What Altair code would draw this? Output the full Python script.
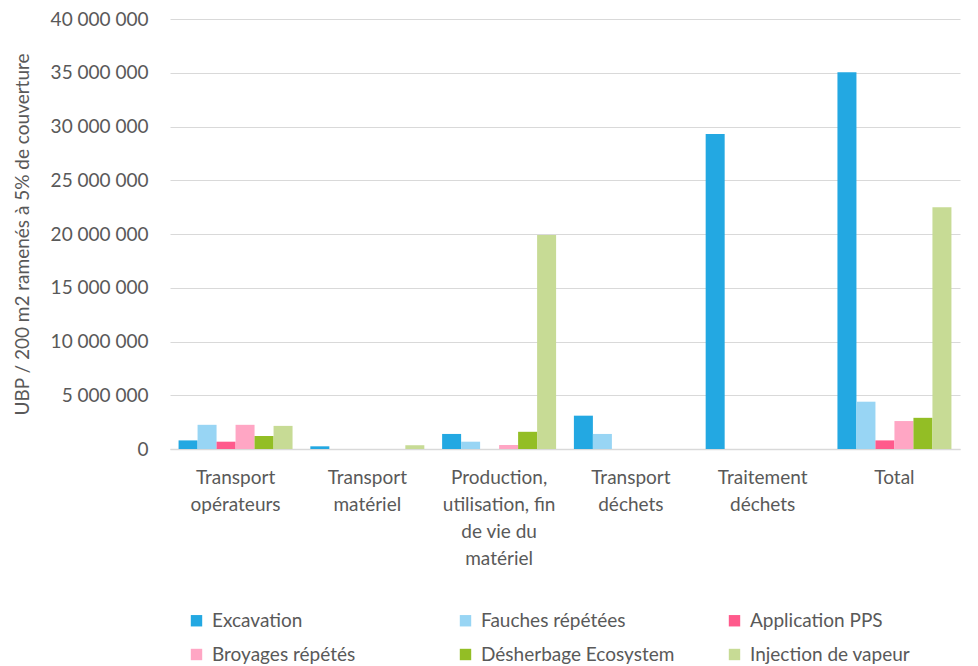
import altair as alt
import pandas as pd

# Life-cycle stages (x categories), each label split on "\n" for multi-line ticks
stages = [
    "Transport\nopérateurs",
    "Transport\nmatériel",
    "Production,\nutilisation, fin\nde vie du\nmatériel",
    "Transport\ndéchets",
    "Traitement\ndéchets",
    "Total",
]

methods = [
    "Excavation",
    "Fauches répétées",
    "Application PPS",
    "Broyages répétés",
    "Désherbage Ecosystem",
    "Injection de vapeur",
]

colors = ["#23A8E2", "#98D5F4", "#FF5A8C", "#FFA6C4", "#93BE25", "#C7DB95"]

# UBP per method, one list per stage (order follows `methods`)
transport_operateurs = [800000, 2250000, 680000, 2250000, 1200000, 2150000]
transport_materiel = [250000, 0, 0, 0, 0, 350000]
production_materiel = [1400000, 680000, 0, 370000, 1600000, 19900000]
transport_dechets = [3100000, 1400000, 0, 0, 0, 0]
traitement_dechets = [29300000, 0, 0, 0, 0, 0]
total = [35050000, 4400000, 800000, 2600000, 2900000, 22500000]

values_by_stage = [
    transport_operateurs,
    transport_materiel,
    production_materiel,
    transport_dechets,
    traitement_dechets,
    total,
]

rows = []
for stage, vals in zip(stages, values_by_stage):
    for method, v in zip(methods, vals):
        rows.append({"stage": stage, "method": method, "value": v})
df = pd.DataFrame(rows)

FONT = "Lato"
TXT = "#595959"
GRID = "#D9D9D9"

chart = (
    alt.Chart(df)
    .mark_bar()
    .encode(
        x=alt.X(
            "stage:N",
            sort=stages,
            title=None,
            scale=alt.Scale(paddingInner=0.135, paddingOuter=0.065),
            axis=alt.Axis(
                labelAngle=0,
                labelExpr="split(datum.label, '\\n')",
                labelLineHeight=27,
                labelPadding=19,
                labelFontSize=19,
                labelColor=TXT,
                labelFont=FONT,
                ticks=False,
                grid=False,
                domainColor=GRID,
                domainWidth=1.5,
                labelLimit=200,
            ),
        ),
        xOffset=alt.XOffset("method:N", sort=methods, scale=alt.Scale(paddingInner=0, paddingOuter=0)),
        y=alt.Y(
            "value:Q",
            title="UBP / 200 m2 ramenés à 5% de couverture",
            scale=alt.Scale(domain=[0, 40000000], nice=False),
            axis=alt.Axis(
                values=list(range(0, 40000001, 5000000)),
                labelExpr="replace(format(datum.value, ',d'), /,/g, ' ')",
                ticks=False,
                domain=False,
                gridColor=GRID,
                gridWidth=1,
                labelPadding=22,
                labelFontSize=19,
                labelColor=TXT,
                labelFont=FONT,
                titleFont=FONT,
                titleFontSize=19,
                titleFontWeight="normal",
                titleColor=TXT,
                titlePadding=18,
            ),
        ),
        color=alt.Color(
            "method:N",
            sort=methods,
            scale=alt.Scale(domain=methods, range=colors),
            legend=alt.Legend(
                title=None,
                orient="none",
                legendX=17,
                legendY=592,
                direction="horizontal",
                columns=3,
                gridAlign="all",
                columnPadding=50,
                rowPadding=14,
                symbolType="square",
                symbolSize=130,
                symbolStrokeWidth=0,
                labelFontSize=19,
                labelColor=TXT,
                labelFont=FONT,
                labelLimit=300,
                labelOffset=6,
            ),
        ),
    )
    .properties(
        width=790,
        height=430,
        autosize=alt.AutoSizeParams(type="none"),
        padding={"left": 170, "top": 19, "right": 18, "bottom": 217},
    )
    .configure(background="white")
    .configure_view(stroke=None)
)

chart.save("out.html", embed_options={"renderer": "svg", "actions": False})
